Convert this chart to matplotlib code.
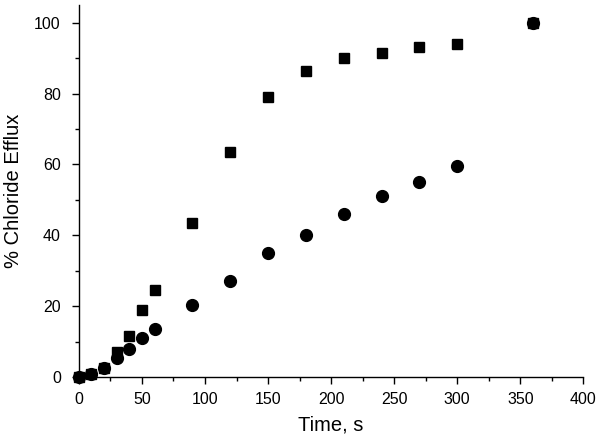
import matplotlib
matplotlib.use("Agg")
import matplotlib.pyplot as plt
from matplotlib.ticker import MultipleLocator

plt.rcParams['font.family'] = ['Liberation Sans', 'DejaVu Sans']

# data
time_s = [0, 10, 20, 30, 40, 50, 60, 90, 120, 150, 180, 210, 240, 270, 300, 360]
efflux_squares = [0, 1, 2.5, 7, 11.5, 19, 24.5, 43.5, 63.5, 79, 86.5, 90, 91.5, 93, 94, 100]
efflux_circles = [0, 1, 2.5, 5.5, 8, 11, 13.5, 20.5, 27, 35, 40, 46, 51, 55, 59.5, 100]

fig = plt.figure(figsize=(6.02, 4.48), dpi=100)
ax = fig.add_axes([0.131, 0.158, 0.838, 0.831])

ax.plot(time_s, efflux_circles, 'o', color='black', markersize=8.5, linestyle='none')
ax.plot(time_s, efflux_squares, 's', color='black', markersize=7.5, linestyle='none')

ax.set_xlim(0, 400)
ax.set_ylim(0, 105)
ax.xaxis.set_major_locator(MultipleLocator(50))
ax.xaxis.set_minor_locator(MultipleLocator(25))
ax.yaxis.set_major_locator(MultipleLocator(20))
ax.yaxis.set_minor_locator(MultipleLocator(10))

for side in ['top', 'right']:
    ax.spines[side].set_visible(False)
for side in ['left', 'bottom']:
    ax.spines[side].set_linewidth(1.0)

ax.tick_params(which='major', direction='out', length=5, width=1, labelsize=11.5)
ax.tick_params(which='minor', direction='out', length=3, width=1)
ax.tick_params(axis='x', which='major', pad=6)
ax.tick_params(axis='y', which='major', pad=8)

ax.set_xlabel('Time, s', fontsize=14.5, labelpad=6)
ax.set_ylabel('% Chloride Efflux', fontsize=14.5, labelpad=8)
for line in ax.lines:
    line.set_clip_on(False)

fig.savefig('out.png', dpi=100)
